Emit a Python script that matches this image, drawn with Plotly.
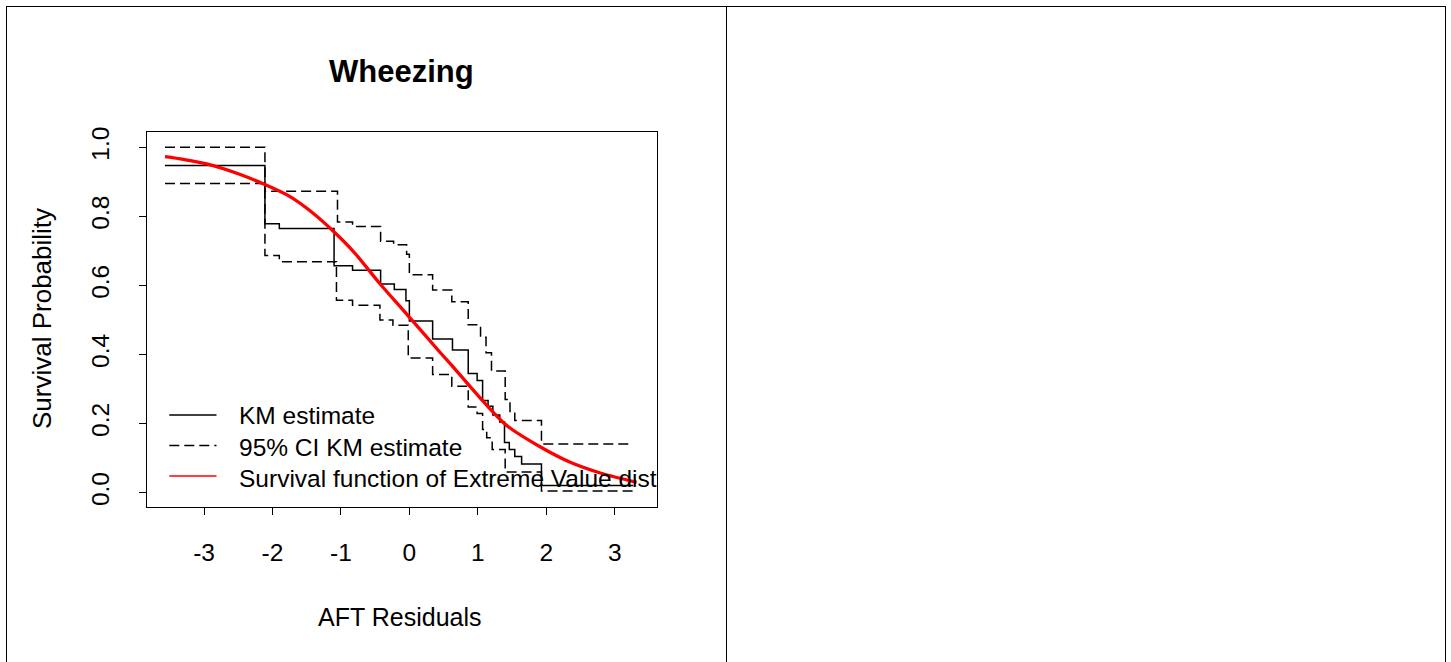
import plotly.graph_objects as go

# ---------------- data ----------------
km_x = [-3.57, -2.11, -1.90, -1.10, -0.83, -0.42, -0.22, -0.05, 0.00, 0.34, 0.63, 0.86,
        0.99, 1.07, 1.15, 1.22, 1.32, 1.39, 1.46, 1.54, 1.64, 1.93, 3.27]
km_y = [0.947, 0.779, 0.765, 0.657, 0.644, 0.604, 0.588, 0.556, 0.497, 0.445, 0.413, 0.345,
        0.325, 0.267, 0.250, 0.225, 0.205, 0.145, 0.125, 0.105, 0.083, 0.021, 0.021]

upper_x = [-3.57, -2.11, -1.05, -0.83, -0.42, -0.23, -0.04, 0.00, 0.34, 0.62, 0.86, 1.04,
           1.12, 1.20, 1.40, 1.47, 1.54, 1.93, 3.25]
upper_y = [1.000, 0.873, 0.784, 0.771, 0.728, 0.718, 0.690, 0.631, 0.587, 0.553, 0.486, 0.450,
           0.405, 0.352, 0.270, 0.235, 0.209, 0.141, 0.141]

lower_x = [-3.57, -2.11, -1.90, -1.065, -0.83, -0.43, -0.24, -0.016, 0.34, 0.62, 0.86, 0.99,
           1.07, 1.13, 1.21, 1.40, 1.93, 3.27]
lower_y = [0.895, 0.687, 0.669, 0.557, 0.543, 0.500, 0.485, 0.390, 0.342, 0.308, 0.248, 0.229,
           0.183, 0.159, 0.125, 0.060, 0.005, 0.005]

ev_x = [-3.57, -3.30, -2.96, -2.48, -2.11, -1.75, -1.41, -1.11, -0.82, -0.43, -0.03, 0.45,
        0.60, 1.09, 1.42, 1.91, 2.35, 2.79, 3.32]
ev_y = [0.973, 0.965, 0.952, 0.922, 0.892, 0.858, 0.810, 0.757, 0.699, 0.605, 0.515, 0.406,
        0.373, 0.262, 0.195, 0.133, 0.088, 0.057, 0.030]

x_ticks = [-3, -2, -1, 0, 1, 2, 3]
x_tick_labels = ["-3", "-2", "-1", "0", "1", "2", "3"]
y_ticks = [0.0, 0.2, 0.4, 0.6, 0.8, 1.0]
y_tick_labels = ["0.0", "0.2", "0.4", "0.6", "0.8", "1.0"]

legend_labels = ["KM estimate", "95% CI KM estimate", "Survival function of Extreme Value dist"]

title_text = "Wheezing"
x_title = "AFT Residuals"
y_title = "Survival Probability"

# ---------------- layout geometry ----------------
W, H = 1451, 662
PX_L, PX_R, PX_T, PX_B = 147, 657, 132, 507
FONT = "Liberation Sans, Arial, sans-serif"
BASE = 24.5

def fx(px):
    return px / W

def fy(py):
    return 1 - py / H

def in_x(px):  # fraction of plot-area width
    return (px - PX_L) / (PX_R - PX_L)

def in_y(py):  # fraction of plot-area height
    return (PX_B - py) / (PX_B - PX_T)

fig = go.Figure()

dash = "10px,5px"
line_w = 1.5

fig.add_trace(go.Scatter(x=upper_x, y=upper_y, mode="lines",
                         line=dict(color="black", width=line_w, dash=dash, shape="hv"),
                         hoverinfo="skip", showlegend=False))
fig.add_trace(go.Scatter(x=lower_x, y=lower_y, mode="lines",
                         line=dict(color="black", width=line_w, dash=dash, shape="hv"),
                         hoverinfo="skip", showlegend=False))
fig.add_trace(go.Scatter(x=km_x, y=km_y, mode="lines",
                         line=dict(color="black", width=line_w, shape="hv"),
                         hoverinfo="skip", showlegend=False))
fig.add_trace(go.Scatter(x=ev_x, y=ev_y, mode="lines",
                         line=dict(color="#ff0000", width=3.3, shape="spline", smoothing=0.8),
                         hoverinfo="skip", showlegend=False))

# ---- in-plot legend (R style, bty="n"), on an overlay axis in [0,1] units, clipped ----
leg_line_rows = [in_y(415), in_y(445.5), in_y(476)]
leg_text_rows = [in_y(418), in_y(449.5), in_y(480.5)]
leg_x0, leg_x1, leg_tx = in_x(169.3), in_x(216.5), in_x(239)
leg_styles = [dict(color="black", width=line_w),
              dict(color="black", width=line_w, dash=dash),
              dict(color="#ff0000", width=1.3)]
for yr, st in zip(leg_line_rows, leg_styles):
    fig.add_trace(go.Scatter(x=[leg_x0, leg_x1], y=[yr, yr], mode="lines", line=st,
                             xaxis="x2", yaxis="y2", hoverinfo="skip", showlegend=False))
fig.add_trace(go.Scatter(x=[leg_tx] * 3, y=leg_text_rows, mode="text", text=legend_labels,
                         textposition="middle right", cliponaxis=True,
                         textfont=dict(family=FONT, size=BASE, color="black"),
                         xaxis="x2", yaxis="y2", hoverinfo="skip", showlegend=False))

axis_common = dict(showline=True, mirror=True, linecolor="black", linewidth=1,
                   ticks="outside", ticklen=7, tickwidth=1, tickcolor="black",
                   showgrid=False, zeroline=False, automargin=False,
                   tickfont=dict(family=FONT, size=BASE, color="black"))

fig.update_layout(
    width=W, height=H, autosize=False,
    margin=dict(l=0, r=0, t=0, b=0, pad=0, autoexpand=False),
    paper_bgcolor="white", plot_bgcolor="white",
    showlegend=False,
    xaxis=dict(domain=[fx(PX_L), fx(PX_R)], range=[-3.833, 3.618],
               tickvals=x_ticks, ticktext=x_tick_labels, ticklabelstandoff=17,
               **axis_common),
    yaxis=dict(domain=[fy(PX_B), fy(PX_T)], range=[-0.0414, 1.0443],
               tickvals=y_ticks, ticktext=y_tick_labels, tickangle=-90,
               ticklabelstandoff=20, **axis_common),
    xaxis2=dict(overlaying="x", range=[0, 1], visible=False, automargin=False),
    yaxis2=dict(overlaying="y", range=[0, 1], visible=False, automargin=False),
)

# titles
fig.add_annotation(text="<b>" + title_text + "</b>", x=fx(401.5), y=fy(72), xref="paper", yref="paper",
                   showarrow=False, xanchor="center", yanchor="middle",
                   font=dict(family=FONT, size=31, color="black"))
fig.add_annotation(text=x_title, x=fx(400.5), y=fy(617), xref="paper", yref="paper",
                   showarrow=False, xanchor="center", yanchor="middle",
                   font=dict(family=FONT, size=25, color="black"))
fig.add_annotation(text=y_title, x=fx(42), y=fy(319), xref="paper", yref="paper",
                   showarrow=False, xanchor="center", yanchor="middle", textangle=-90,
                   font=dict(family=FONT, size=26, color="black"))

# outer table frame
frame = dict(color="black", width=1)
fig.add_shape(type="line", xref="paper", yref="paper", x0=fx(6), x1=fx(1446), y0=fy(6.5), y1=fy(6.5), line=frame)
for xp in (6.5, 726.5, 1445.5):
    fig.add_shape(type="line", xref="paper", yref="paper", x0=fx(xp), x1=fx(xp), y0=fy(6), y1=fy(662), line=frame)

fig.write_html("out.html")
